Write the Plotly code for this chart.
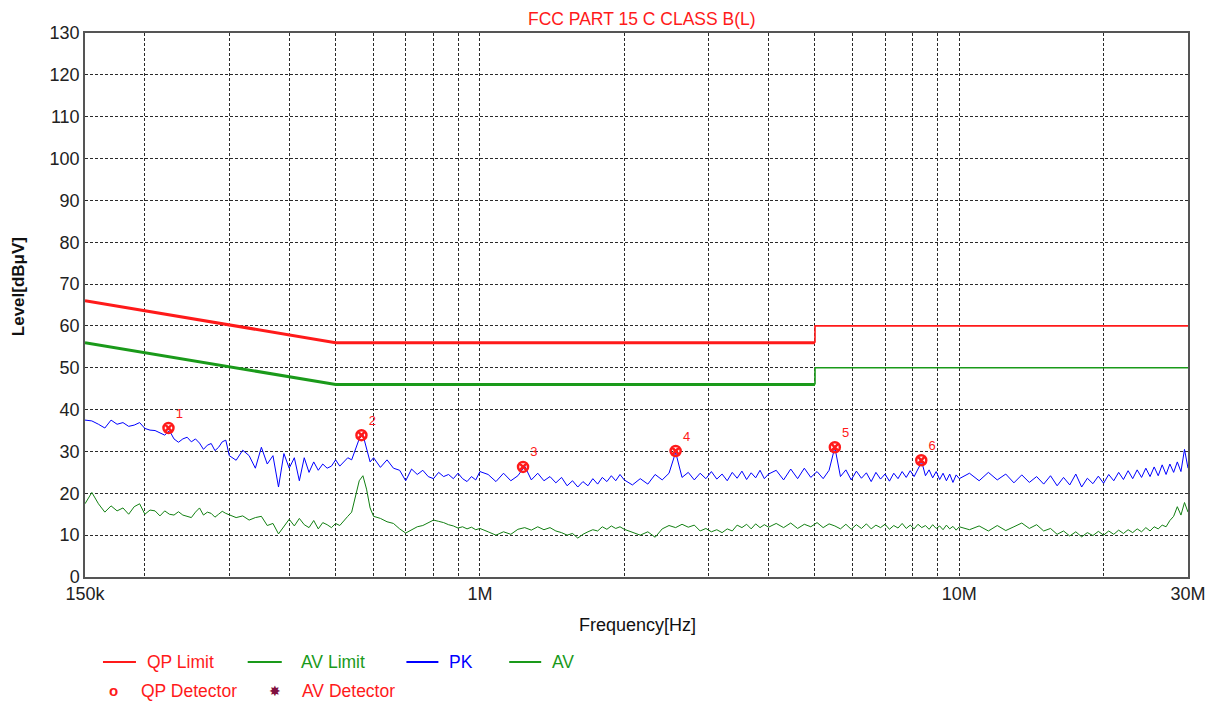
import plotly.graph_objects as go

# ---------------- data (frequency in MHz, level in dBuV) ----------------
FREQ_MHZ = [
    0.150, 0.155, 0.160, 0.165, 0.170, 0.175, 0.180, 0.185, 0.190, 0.195,
    0.200, 0.205, 0.210, 0.215, 0.220, 0.225, 0.230, 0.235, 0.240, 0.245,
    0.250, 0.255, 0.260, 0.265, 0.270, 0.275, 0.280, 0.285, 0.290, 0.295, 0.300,
    0.31, 0.32, 0.33, 0.34, 0.35, 0.36, 0.37, 0.38, 0.39, 0.40,
    0.41, 0.42, 0.43, 0.44, 0.45, 0.46, 0.47, 0.48, 0.49, 0.50,
    0.51, 0.52, 0.53, 0.54, 0.55, 0.56, 0.57, 0.58, 0.59, 0.60,
    0.62, 0.64, 0.66, 0.68, 0.70, 0.72, 0.74, 0.76, 0.78, 0.80,
    0.82, 0.84, 0.86, 0.88, 0.90, 0.92, 0.94, 0.96, 0.98, 1.00,
    1.04, 1.08, 1.12, 1.16, 1.20, 1.24, 1.28, 1.32, 1.36, 1.40,
    1.44, 1.48, 1.52, 1.56, 1.60, 1.64, 1.68, 1.72, 1.76, 1.80,
    1.84, 1.88, 1.92, 1.96, 2.00,
    2.08, 2.16, 2.24, 2.32, 2.40, 2.48, 2.56, 2.64, 2.72, 2.80,
    2.88, 2.96, 3.04, 3.12, 3.20, 3.28, 3.36, 3.44, 3.52, 3.60,
    3.68, 3.76, 3.84, 3.92, 4.00,
    4.15, 4.30, 4.45, 4.60, 4.75, 4.90, 5.05, 5.20, 5.35, 5.50,
    5.65, 5.80, 5.95, 6.10, 6.25, 6.40, 6.55, 6.70, 6.85, 7.00,
    7.15, 7.30, 7.45, 7.60, 7.75, 7.90, 8.05, 8.20, 8.35, 8.50,
    8.65, 8.80, 8.95, 9.10, 9.25, 9.40, 9.55, 9.70, 9.85, 10.00,
    10.5, 11.0, 11.5, 12.0, 12.5, 13.0, 13.5, 14.0, 14.5, 15.0,
    15.5, 16.0, 16.5, 17.0, 17.5, 18.0, 18.5, 19.0, 19.5, 20.0,
    20.5, 21.0, 21.5, 22.0, 22.5, 23.0, 23.5, 24.0, 24.5, 25.0,
    25.5, 26.0, 26.5, 27.0, 27.5, 28.0, 28.5, 29.0, 29.5, 30.0,
]

PK_DBUV = [
    37.5, 37.3, 36.5, 35.6, 37.5, 36.5, 36.9, 36.0, 36.3, 36.9,
    35.5, 35.1, 35.0, 34.5, 33.9, 35.0, 33.0, 32.2, 33.0, 33.4,
    32.3, 33.0, 32.0, 30.5, 31.5, 31.9, 30.2, 31.0, 32.3, 32.7, 29.0,
    27.9, 30.3, 29.0, 26.0, 31.0, 27.0, 29.0, 21.5, 29.5, 26.0,
    28.5, 23.0, 28.5, 25.0, 27.5, 25.5, 27.0, 26.0, 26.5, 28.0,
    26.5, 27.5, 28.5, 28.0, 30.5, 33.0, 34.0, 31.0, 27.5, 28.5,
    26.2, 28.0, 26.0, 25.5, 23.0, 25.8, 24.5, 25.5, 24.0, 23.5,
    25.0, 24.0, 24.5, 23.5, 24.8, 23.5, 22.8, 24.0, 23.2, 25.2,
    24.5, 22.8, 24.8, 23.0, 24.2, 26.5, 23.2, 24.8, 23.0, 24.0,
    22.5, 23.8, 21.8, 23.0, 21.5, 22.8, 21.8, 23.5, 22.2, 23.8,
    22.8, 24.2, 23.0, 24.5, 23.2,
    22.0, 23.5, 22.2, 24.5, 23.2, 24.8, 29.8, 23.8, 25.0, 23.2,
    24.8, 23.5, 25.2, 23.4, 24.6, 23.0, 25.0, 23.6, 25.3, 23.3,
    24.9, 23.7, 25.5, 23.5, 24.6,
    25.5, 23.2, 25.8, 23.5, 26.0, 23.8, 25.2, 23.5, 25.5, 31.0,
    24.0, 25.6, 23.2, 25.3, 23.6, 24.9, 22.8, 25.0, 23.4, 24.6,
    22.9, 24.8, 23.5, 25.2, 23.8, 25.4, 24.0, 25.8, 27.5, 24.2,
    25.6, 23.7, 25.2, 23.3, 24.8, 23.0, 24.6, 22.6, 24.4, 23.5,
    24.8, 23.0, 25.0, 23.2, 24.6, 22.5, 24.4, 22.6, 24.0, 22.2,
    24.2, 21.8, 23.8, 22.0, 24.6, 21.5, 23.6, 22.3, 24.1, 22.4,
    24.5, 23.0, 25.0, 23.3, 25.4, 23.5, 25.6, 23.8, 26.0, 24.0,
    26.3, 24.2, 26.8, 24.5, 27.0, 25.0, 27.5, 25.2, 30.5, 26.0,
]

AV_DBUV = [
    17.5, 20.2, 17.5, 15.5, 17.0, 15.8, 16.5, 15.0, 16.8, 17.5,
    15.0, 16.0, 15.8, 14.6, 15.8, 15.0, 14.8, 15.6, 14.8, 14.4,
    14.2, 15.5, 16.5, 14.8, 15.5, 15.2, 14.3, 15.0, 15.7, 15.2, 14.8,
    14.2, 14.6, 13.6, 14.2, 14.5, 12.3, 12.8, 10.3, 12.0, 13.8,
    12.2, 14.0, 12.5, 11.8, 13.5, 11.5, 13.0, 12.5, 11.8, 12.8,
    12.3, 13.5, 14.5, 15.5, 19.5, 23.0, 24.2, 21.0, 16.5, 14.5,
    14.0, 13.2, 12.8, 11.5, 10.5, 11.2, 12.0, 12.3, 13.0, 13.6,
    13.3, 13.0, 12.5, 12.2, 11.7, 12.0, 11.5, 11.9, 11.3, 11.6,
    10.8, 10.0, 10.8, 10.2, 11.4, 11.8, 11.2, 12.0, 11.3, 11.8,
    11.0, 10.6, 10.0, 10.4, 9.3, 10.2, 10.8, 11.3, 11.0, 12.0,
    11.4, 12.2, 11.6, 12.0, 11.4,
    10.6, 10.0, 10.8, 9.5, 11.5, 12.3, 11.8, 12.6, 11.9, 12.4,
    11.0, 11.6, 10.8, 11.3, 10.6, 11.5, 11.0, 12.4, 11.8, 12.6,
    11.5, 12.7, 11.8, 12.5, 11.9,
    12.8, 11.8, 12.9, 11.6, 12.6, 12.0, 13.0, 11.8, 12.7, 12.2,
    11.5, 12.6, 11.4, 12.5, 11.6, 12.7, 11.5, 12.4, 11.8, 12.6,
    11.4, 12.3, 11.7, 12.8, 11.6, 12.4, 11.5, 12.6, 11.8, 12.3,
    11.4, 12.5, 11.6, 12.2, 11.3, 12.4, 11.5, 12.1, 11.2, 12.0,
    11.3, 12.2, 11.0, 12.3, 11.1, 12.0, 12.9, 11.6, 12.5, 11.0,
    11.6, 10.2, 11.0, 9.8, 10.8, 9.6, 10.6, 9.9, 10.9, 10.0,
    11.0, 10.2, 11.2, 10.4, 11.3, 10.6, 11.5, 10.8, 11.8, 11.0,
    12.0, 11.5, 12.4, 12.0, 13.5, 14.5, 16.8, 14.8, 17.8, 15.5,
]

# Limit lines (FCC Part 15 Class B conducted)
LIMIT_FREQ_LOW = [0.15, 0.5, 5.0]
QP_LIMIT_LOW = [66, 56, 56]
AV_LIMIT_LOW = [56, 46, 46]
LIMIT_FREQ_HIGH = [5.0, 5.0, 30.0]
QP_LIMIT_HIGH = [56, 60, 60]
AV_LIMIT_HIGH = [46, 50, 50]

# QP detector marker points
MARK_FREQ = [0.224, 0.566, 1.23, 2.56, 5.50, 8.33]
MARK_LEVEL = [35.6, 33.9, 26.3, 30.1, 31.0, 27.9]
MARK_LABEL = ["1", "2", "3", "4", "5", "6"]

X_TICK_VALS = [0.15, 1, 10, 30]
X_TICK_TEXT = ["150k", "1M", "10M", "30M"]
X_MINOR_VALS = [0.2, 0.3, 0.4, 0.5, 0.6, 0.7, 0.8, 0.9,
                2, 3, 4, 5, 6, 7, 8, 9, 20]

RED = "#ff1a1a"
GREEN_LIM = "#1a9a1a"
GREEN_AV = "#128012"
BLUE = "#0000ff"
FONT = "Arial, Liberation Sans, sans-serif"

fig = go.Figure()

fig.add_trace(go.Scatter(x=FREQ_MHZ, y=AV_DBUV, mode="lines",
                         line=dict(color=GREEN_AV, width=1), showlegend=False))
fig.add_trace(go.Scatter(x=FREQ_MHZ, y=PK_DBUV, mode="lines",
                         line=dict(color=BLUE, width=1), showlegend=False))

fig.add_trace(go.Scatter(x=LIMIT_FREQ_LOW, y=AV_LIMIT_LOW, mode="lines",
                         line=dict(color=GREEN_LIM, width=3), showlegend=False))
fig.add_trace(go.Scatter(x=LIMIT_FREQ_HIGH, y=AV_LIMIT_HIGH, mode="lines",
                         line=dict(color=GREEN_LIM, width=1.6), showlegend=False))
fig.add_trace(go.Scatter(x=LIMIT_FREQ_LOW, y=QP_LIMIT_LOW, mode="lines",
                         line=dict(color=RED, width=3), showlegend=False))
fig.add_trace(go.Scatter(x=LIMIT_FREQ_HIGH, y=QP_LIMIT_HIGH, mode="lines",
                         line=dict(color=RED, width=1.6), showlegend=False))

fig.add_trace(go.Scatter(
    x=MARK_FREQ, y=MARK_LEVEL, mode="markers+text",
    text=MARK_LABEL, textposition="top right",
    textfont=dict(color=RED, size=13, family=FONT),
    marker=dict(symbol="circle-x-open", size=10, color=RED,
                line=dict(color=RED, width=2.5)),
    showlegend=False))

grid_kw = dict(showgrid=True, gridcolor="#2a2a2a", gridwidth=1,
               griddash="3px,2px")

fig.update_xaxes(
    type="log", range=[-0.82391, 1.47712],
    tickmode="array", tickvals=X_TICK_VALS, ticktext=X_TICK_TEXT,
    ticks="", tickfont=dict(size=18, color="#222", family=FONT),
    showline=True, linecolor="#555", linewidth=1.5, mirror=True,
    minor=dict(tickvals=X_MINOR_VALS, showgrid=True, gridcolor="#2a2a2a",
               gridwidth=1, griddash="3px,2px", ticks=""),
    zeroline=False, **grid_kw)

fig.update_yaxes(
    range=[0, 130], dtick=10, tick0=0,
    ticks="", tickfont=dict(size=18, color="#222", family=FONT),
    showline=True, linecolor="#555", linewidth=1.5, mirror=True,
    zeroline=False, **grid_kw)

annotations = [
    dict(text="FCC PART 15 C CLASS B(L)", x=0.505, y=1.025, xref="paper",
         yref="paper", showarrow=False, xanchor="center", yanchor="middle",
         font=dict(size=17.5, color=RED, family=FONT)),
    dict(text="<b>Level[dBμV]</b>", x=-0.0606, y=0.533, xref="paper",
         yref="paper", showarrow=False, textangle=-90, xanchor="center",
         yanchor="middle", font=dict(size=17, color="#111", family=FONT)),
    dict(text="Frequency[Hz]", x=0.5005, y=-0.0882, xref="paper",
         yref="paper", showarrow=False, xanchor="center", yanchor="middle",
         font=dict(size=18, color="#111", family=FONT)),
]

legend_rows = [
    # (line x0, x1, color, text x, text, text color)
    (0.0163, 0.0462, RED, 0.0543, "QP Limit", RED),
    (0.1475, 0.1784, GREEN_LIM, 0.1937, "AV Limit", GREEN_LIM),
    (0.2914, 0.3204, BLUE, 0.3285, "PK", BLUE),
    (0.3846, 0.4136, GREEN_LIM, 0.4217, "AV", GREEN_LIM),
]
row1_y = -0.1562
row2_y = -0.2094
shapes = []
for x0, x1, col, tx, txt, tcol in legend_rows:
    shapes.append(dict(type="line", xref="paper", yref="paper",
                       x0=x0, x1=x1, y0=row1_y, y1=row1_y,
                       line=dict(color=col, width=2)))
    annotations.append(dict(text=txt, x=tx, y=row1_y, xref="paper",
                            yref="paper", showarrow=False, xanchor="left",
                            yanchor="middle",
                            font=dict(size=17.5, color=tcol, family=FONT)))

annotations += [
    dict(text="<b>o</b>", x=0.0262, y=row2_y, xref="paper", yref="paper",
         showarrow=False, xanchor="center", yanchor="middle",
         font=dict(size=15, color=RED, family=FONT)),
    dict(text="QP Detector", x=0.0489, y=row2_y, xref="paper", yref="paper",
         showarrow=False, xanchor="left", yanchor="middle",
         font=dict(size=17.5, color=RED, family=FONT)),
    dict(text="✸", x=0.1719, y=row2_y, xref="paper", yref="paper",
         showarrow=False, xanchor="center", yanchor="middle",
         font=dict(size=14, color="#801040", family="DejaVu Sans")),
    dict(text="AV Detector", x=0.1946, y=row2_y, xref="paper", yref="paper",
         showarrow=False, xanchor="left", yanchor="middle",
         font=dict(size=17.5, color=RED, family=FONT)),
]

# The page body adds an 8px offset; size the figure so the plot area lands
# at the reference position (left 85, top 33, right 1190, bottom 577).
fig.update_layout(
    width=1210, height=696, autosize=False,
    margin=dict(l=77, r=28, t=25, b=127),
    paper_bgcolor="white", plot_bgcolor="white",
    font=dict(family=FONT),
    showlegend=False,
    annotations=annotations, shapes=shapes,
)

fig.write_html("out.html")
